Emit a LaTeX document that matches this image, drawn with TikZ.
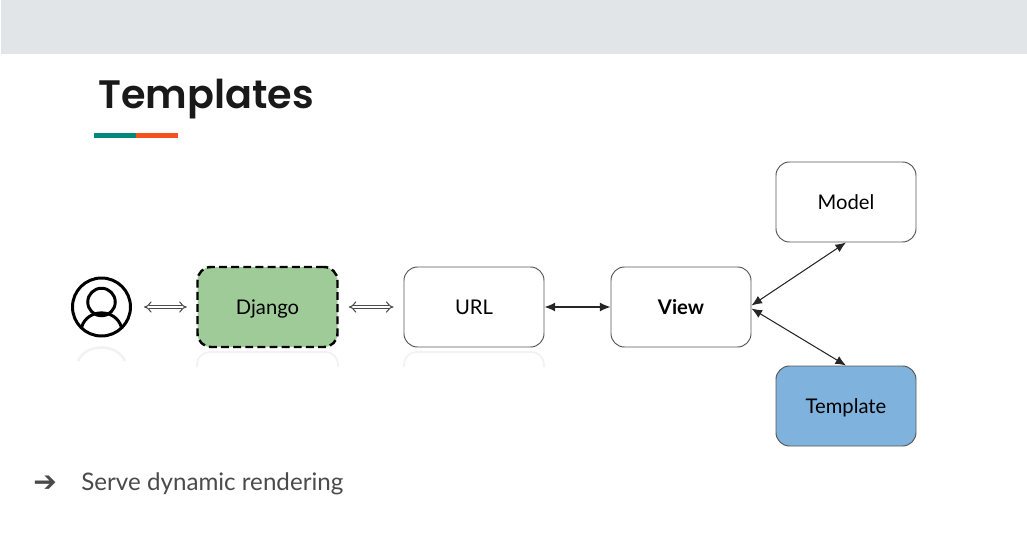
\documentclass[tikz,border=0pt]{standalone}
\usepackage{fontspec}
\setmainfont{Lato}
\newfontfamily\titlefont{Poppins SemiBold}
\newfontfamily\symbolfont{DejaVu Sans}
\usetikzlibrary{arrows.meta,positioning}
\definecolor{bandgray}{HTML}{E2E5E8}
\definecolor{barteal}{HTML}{00897B}
\definecolor{barorange}{HTML}{F4511E}
\definecolor{djangogreen}{HTML}{9FCB98}
\definecolor{templateblue}{HTML}{7FB2DC}
\definecolor{bodygray}{HTML}{4A4A4A}
\tikzset{
    boxnode/.style={draw=black!65,line width=0.55pt,rounded corners=0.27cm,minimum width=2.8cm,minimum height=1.6cm,text height=0.29cm,text depth=0cm,font=\fontsize{11.5}{14}\selectfont},
    hollowarrow/.style={double,double distance=1.6pt,line width=0.6pt,draw=black!70,{Implies[length=3.5pt]}-{Implies[length=3.5pt]}},
    thinarrow/.style={line width=0.6pt,draw=black!85,{Latex[length=6pt,width=5pt]}-{Latex[length=6pt,width=5pt]}},
    ghost/.style={black!5,line width=1pt,rounded corners=0.25cm}
}
\begin{document}
\begin{tikzpicture}
    \useasboundingbox (0,0) rectangle (20.54,10.84);
    \fill[bandgray] (0.02,9.76) rectangle (20.54,10.84);

    \node[anchor=base west,inner sep=0pt,font=\titlefont\fontsize{22.6}{28}\selectfont,text=black!90] (title) at (1.96,8.68) {Templates};
    \fill[barteal] (1.88,8.08) rectangle (2.72,8.18);
    \fill[barorange] (2.72,8.08) rectangle (3.56,8.18);

    % reflections under the first row
    \draw[black!5,line width=1.5pt] (1.56,3.62) .. controls (1.72,3.98) and (2.34,3.98) .. (2.50,3.62);
    \draw[ghost] (3.94,3.5) -- (3.94,3.8) -- (6.76,3.8) -- (6.76,3.5);
    \draw[ghost] (8.08,3.5) -- (8.08,3.8) -- (10.88,3.8) -- (10.88,3.5);

    \node[circle,draw,line width=1.7pt,minimum size=1.16cm,inner sep=0pt] (user) at (2.03,4.70) {};
    \draw[line width=1.7pt] (2.03,4.80) circle (0.275);
    \draw[line width=1.7pt] (1.63,4.29) .. controls (1.74,4.68) and (2.32,4.68) .. (2.43,4.29);

    \node[boxnode,draw=black,line width=1.4pt,dash pattern=on 4.5pt off 2.4pt,fill=djangogreen] (django) at (5.35,4.70) {Django};
    \node[boxnode] (url) at (9.48,4.70) {URL};
    \node[boxnode,font=\fontsize{11.5}{14}\selectfont\bfseries] (view) at (13.62,4.70) {View};
    \node[boxnode] (model) at (16.92,6.80) {Model};
    \node[boxnode,fill=templateblue] (template) at (16.92,2.72) {Template};

    \draw[hollowarrow,shorten <=0.24cm,shorten >=0.19cm] (user) -- (django);
    \draw[hollowarrow,shorten <=0.2cm,shorten >=0.2cm] (django) -- (url);
    \draw[thinarrow] (url) -- (view);
    \draw[thinarrow] ([yshift=0.03cm]view.east) -- (model.south);
    \draw[thinarrow] ([yshift=-0.03cm]view.east) -- (template.north);

    \node[anchor=base west,inner sep=0pt,text=bodygray,font=\symbolfont\fontsize{16}{18}\selectfont] (bullet) at (0.66,1.02) {➔};
    \node[anchor=base west,inner sep=0pt,text=bodygray,font=\fontsize{13.75}{17}\selectfont] (line) at (1.62,1.04) {Serve dynamic rendering};
\end{tikzpicture}
\end{document}
